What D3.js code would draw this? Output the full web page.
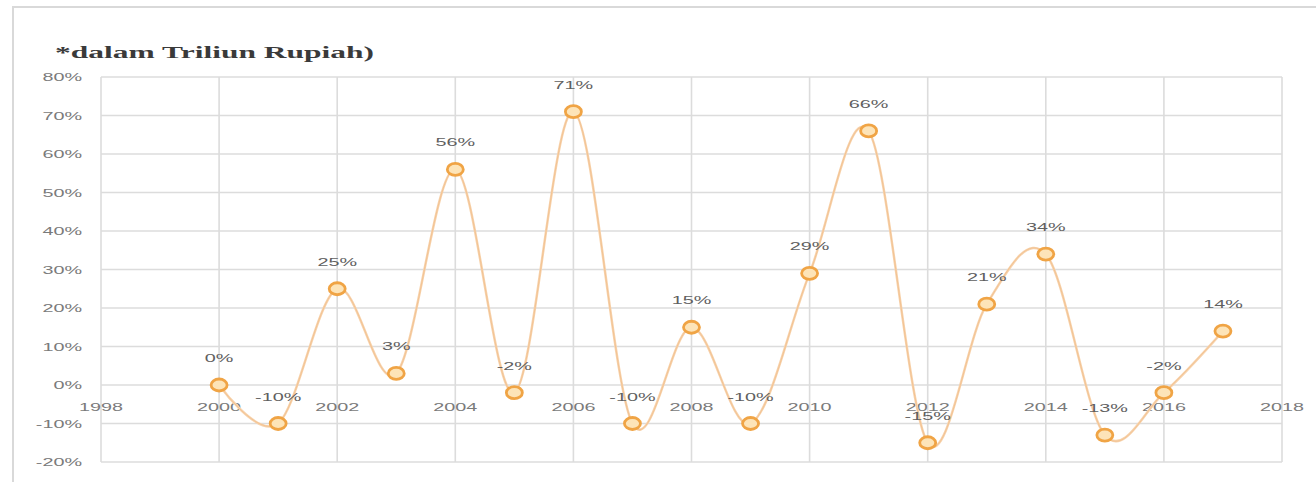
<!DOCTYPE html>
<html>
<head>
<meta charset="utf-8">
<script src="https://cdn.jsdelivr.net/npm/d3@7"></script>
<style>
  html, body { margin: 0; padding: 0; background: #ffffff; }
  svg { display: block; }
</style>
</head>
<body>
<svg id="chart" width="1316" height="482"></svg>
<script>
// ---- data ----
const years = [2000, 2001, 2002, 2003, 2004, 2005, 2006, 2007, 2008, 2009, 2010, 2011, 2012, 2013, 2014, 2015, 2016, 2017];
const growth = [0, -10, 25, 3, 56, -2, 71, -10, 15, -10, 29, 66, -15, 21, 34, -13, -2, 14];
const dataLabels = ["0%", "-10%", "25%", "3%", "56%", "-2%", "71%", "-10%", "15%", "-10%", "29%", "66%", "-15%", "21%", "34%", "-13%", "-2%", "14%"];
const xTicks = [1998, 2000, 2002, 2004, 2006, 2008, 2010, 2012, 2014, 2016, 2018];
const yTicks = [-20, -10, 0, 10, 20, 30, 40, 50, 60, 70, 80];
const title = "*dalam Triliun Rupiah)";

// ---- layout ----
const svg = d3.select("#chart");
const SX = 1.8; // horizontal stretch of the original picture
const x = d3.scaleLinear().domain([1998, 2018]).range([101, 1282]);
const y = d3.scaleLinear().domain([-20, 80]).range([462, 77]);

// outer chart border (only top/left visible)
svg.append("rect")
  .attr("x", 13).attr("y", 7)
  .attr("width", 1330).attr("height", 500)
  .attr("fill", "#ffffff")
  .attr("stroke", "#d9d9d9").attr("stroke-width", 2);

function stretchedText(g, tx, ty, str, opts) {
  return g.append("text")
    .attr("transform", `translate(${tx},${ty}) scale(${opts.sx || SX},1)`)
    .attr("text-anchor", opts.anchor || "middle")
    .attr("font-family", opts.family || "'Liberation Sans', Arial, sans-serif")
    .attr("font-size", opts.size || 12)
    .attr("font-weight", opts.weight || "normal")
    .attr("fill", opts.fill || "#666666")
    .text(str);
}

// title
stretchedText(svg, 55, 58, title, {
  anchor: "start", family: "'Liberation Serif', 'Times New Roman', serif",
  size: 17.5, weight: "bold", fill: "#3a3a3a", sx: 1.8
});

// gridlines
const grid = svg.append("g");
grid.selectAll("line.h").data(yTicks).join("line")
  .attr("x1", x(1998)).attr("x2", x(2018))
  .attr("y1", d => y(d)).attr("y2", d => y(d))
  .attr("stroke", "#dcdcdc").attr("stroke-width", 1.6);
grid.selectAll("line.v").data(xTicks).join("line")
  .attr("x1", d => x(d)).attr("x2", d => x(d))
  .attr("y1", y(80)).attr("y2", y(-20))
  .attr("stroke", "#dcdcdc").attr("stroke-width", 1.6);

// y tick labels
const yl = svg.append("g");
yTicks.forEach(v => {
  stretchedText(yl, 82, y(v) + 4, v + "%", { anchor: "end", size: 11, fill: "#7a7a7a" });
});

// x tick labels at 0% line
const xl = svg.append("g");
xTicks.forEach(v => {
  stretchedText(xl, x(v), y(0) + 26, String(v), { anchor: "middle", size: 11, fill: "#7a7a7a" });
});

// smooth line
const pts = years.map((yr, i) => [x(yr), y(growth[i])]);
const line = d3.line().curve(d3.curveCatmullRom.alpha(0));
svg.append("path")
  .attr("d", line(pts))
  .attr("fill", "none")
  .attr("stroke", "#f7d3ad")
  .attr("stroke-width", 2.5);
svg.append("path")
  .attr("d", line(pts))
  .attr("fill", "none")
  .attr("stroke", "#efb57e")
  .attr("stroke-width", 0.8)
  .attr("opacity", 0.7);

// markers
const mk = svg.append("g");
years.forEach((yr, i) => {
  mk.append("ellipse")
    .attr("cx", x(yr)).attr("cy", y(growth[i]))
    .attr("rx", 8).attr("ry", 6)
    .attr("fill", "#fde4b8")
    .attr("stroke", "#f0a445")
    .attr("stroke-width", 2.8);
});

// data labels
const dl = svg.append("g");
years.forEach((yr, i) => {
  stretchedText(dl, x(yr), y(growth[i]) - 23, dataLabels[i], { anchor: "middle", size: 11, fill: "#5f5f5f" });
});
</script>
</body>
</html>
